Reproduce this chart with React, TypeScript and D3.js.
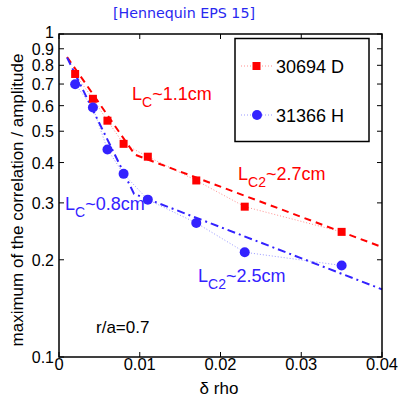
import React from "react";
import * as d3 from "d3";

const drho = [0.002, 0.0042, 0.006, 0.008, 0.011, 0.017, 0.023, 0.035];
const seriesD = [0.752, 0.63, 0.539, 0.457, 0.417, 0.352, 0.292, 0.244];
const seriesH = [0.699, 0.592, 0.439, 0.369, 0.307, 0.26, 0.211, 0.192];
const fitDx = [0.001, 0.0094, 0.04];
const fitDy = [0.849, 0.423, 0.219];
const fitHx = [0.001, 0.0093, 0.04];
const fitHy = [0.845, 0.32, 0.162];
const yTicks = [0.1, 0.2, 0.3, 0.4, 0.5, 0.6, 0.7, 0.8, 0.9, 1];
const yTickLabels = ["0.1", "0.2", "0.3", "0.4", "0.5", "0.6", "0.7", "0.8", "0.9", "1"];
const xTicks = [0, 0.01, 0.02, 0.03, 0.04];
const xTickLabels = ["0", "0.01", "0.02", "0.03", "0.04"];
const legendLabels = ["30694 D", "31366 H"];

const RED = "#ff0000";
const BLUE = "#3322ff";
const FONT = "'Liberation Sans', Arial, Helvetica, sans-serif";

export default function App() {
  const W = 401, H = 397;
  const L = 59, R = 382, T = 34, B = 357;
  const x = d3.scaleLinear().domain([0, 0.04]).range([L, R]);
  const y = d3.scaleLog().domain([0.1, 1]).range([B, T]);
  const line = d3.line<[number, number]>().x(d => x(d[0])).y(d => y(d[1]));
  const ptsD = drho.map((v, i) => [v, seriesD[i]] as [number, number]);
  const ptsH = drho.map((v, i) => [v, seriesH[i]] as [number, number]);
  const fitD = fitDx.map((v, i) => [v, fitDy[i]] as [number, number]);
  const fitH = fitHx.map((v, i) => [v, fitHy[i]] as [number, number]);
  const tk = 5;
  return (
    <svg width={W} height={H} style={{ position: "absolute", left: 0, top: 0, fontFamily: FONT }}>
      <rect width={W} height={H} fill="#fff" />
      <text x={184} y={18} fill="#2828f0" fontSize={14} textAnchor="middle" fontFamily="'DejaVu Sans', sans-serif" textLength={142} lengthAdjust="spacingAndGlyphs">[Hennequin EPS 15]</text>
      {/* connectors */}
      <path d={line(ptsD)!} fill="none" stroke="#ff9090" strokeWidth={1} strokeDasharray="1,2" />
      <path d={line(ptsH)!} fill="none" stroke="#9999ff" strokeWidth={1} strokeDasharray="1,2" />
      {/* fits */}
      <path d={line(fitD)!} fill="none" stroke={RED} strokeWidth={2} strokeDasharray="7,5" />
      <path d={line(fitH)!} fill="none" stroke={BLUE} strokeWidth={2} strokeDasharray="8,4,2,4" />
      {ptsD.map((p, i) => (
        <rect key={"d" + i} x={x(p[0]) - 4} y={y(p[1]) - 4} width={8} height={8} fill={RED} />
      ))}
      {ptsH.map((p, i) => (
        <circle key={"h" + i} cx={x(p[0])} cy={y(p[1])} r={5} fill={BLUE} />
      ))}
      {/* axes frame */}
      <rect x={L} y={T} width={R - L} height={B - T} fill="none" stroke="#000" strokeWidth={1.5} />
      {yTicks.map((t, i) => (
        <g key={"y" + i}>
          <line x1={L} x2={L + tk} y1={y(t)} y2={y(t)} stroke="#000" strokeWidth={1} />
          <line x1={R} x2={R - tk} y1={y(t)} y2={y(t)} stroke="#000" strokeWidth={1} />
          <text x={54} y={y(t) + (t === 1 ? 4 : 6)} fontSize={16} textAnchor="end" fill="#000">{yTickLabels[i]}</text>
        </g>
      ))}
      {xTicks.map((t, i) => (
        <g key={"x" + i}>
          <line x1={x(t)} x2={x(t)} y1={B} y2={B - tk} stroke="#000" strokeWidth={1} />
          <line x1={x(t)} x2={x(t)} y1={T} y2={T + tk} stroke="#000" strokeWidth={1} />
          <text x={x(t)} y={370} fontSize={16.5} textAnchor="middle" fill="#000">{xTickLabels[i]}</text>
        </g>
      ))}
      <text x={219} y={394} fontSize={17} textAnchor="middle" fill="#000">δ rho</text>
      <text transform="translate(23,200) rotate(-90)" fontSize={17} textAnchor="middle" fill="#000">maximum of the correlation / amplitude</text>
      {/* legend */}
      <rect x={235} y={38.5} width={134} height={103} fill="#fff" stroke="#000" strokeWidth={1.5} />
      <line x1={241} x2={272} y1={66} y2={66} stroke="#ff9090" strokeWidth={1} strokeDasharray="1,2" />
      <rect x={252.5} y={62} width={8} height={8} fill={RED} />
      <text x={276} y={73} fontSize={18} fill="#000">{legendLabels[0]}</text>
      <line x1={241} x2={272} y1={115} y2={115} stroke="#9999ff" strokeWidth={1} strokeDasharray="1,2" />
      <circle cx={257} cy={115} r={5} fill={BLUE} />
      <text x={276} y={122} fontSize={18} fill="#000">{legendLabels[1]}</text>
      {/* annotations */}
      <text x={132} y={100} fontSize={18} fill={RED}>L<tspan fontSize={14} dy={7}>C</tspan><tspan fontSize={18} dy={-7}>~1.1cm</tspan></text>
      <text x={65} y={210} fontSize={18} fill={BLUE}>L<tspan fontSize={14} dy={7}>C</tspan><tspan fontSize={18} dy={-7}>~0.8cm</tspan></text>
      <text x={238} y={180} fontSize={18} fill={RED}>L<tspan fontSize={14} dy={7}>C2</tspan><tspan fontSize={18} dy={-7}>~2.7cm</tspan></text>
      <text x={198} y={282} fontSize={18} fill={BLUE}>L<tspan fontSize={14} dy={7}>C2</tspan><tspan fontSize={18} dy={-7}>~2.5cm</tspan></text>
      <text x={96} y={333} fontSize={17} fill="#000">r/a=0.7</text>
    </svg>
  );
}
